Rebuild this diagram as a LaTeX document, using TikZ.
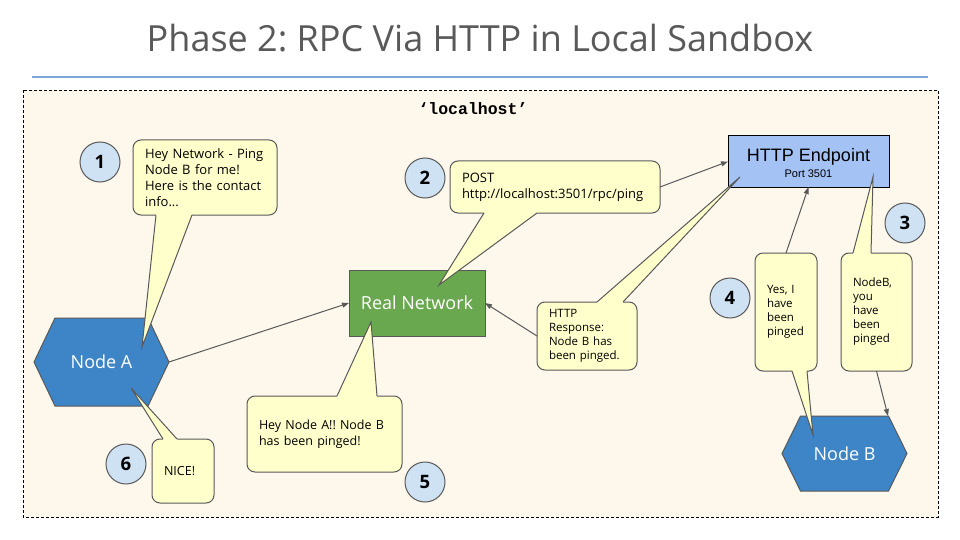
\documentclass[tikz,border=0pt]{standalone}
\usepackage{fontspec}
\setmainfont{Open Sans}
\newfontfamily\arialfont{Liberation Sans}
\newfontfamily\courierfont{Liberation Mono}
\usetikzlibrary{arrows.meta,calc}
\frenchspacing

\definecolor{inkgray}{HTML}{595959}
\definecolor{rulerblue}{HTML}{7BA7DA}
\definecolor{sandfill}{HTML}{FEF7EC}
\definecolor{notefill}{HTML}{FFFFCC}
\definecolor{hexblue}{HTML}{3D85C6}
\definecolor{netgreen}{HTML}{6AA84F}
\definecolor{endpointblue}{HTML}{A4C2F4}
\definecolor{badgefill}{HTML}{CFE2F3}

\newcommand\fsz[2]{\fontsize{#1}{#2}\selectfont}

% flat hexagon: centre x, centre y, half width, half height, chamfer, style
\newcommand\hexshapeat[6]{%
  \filldraw[#6] (#1-#3,#2) -- (#1-#3+#5,#2-#4) -- (#1+#3-#5,#2-#4)
    -- (#1+#3,#2) -- (#1+#3-#5,#2+#4) -- (#1-#3+#5,#2+#4) -- cycle;}

% speech-bubble tail: box, corner anchor of its edge, base offsets, tip, inward shift
\newcommand\calltail[6]{%
  \fill[notefill] ($(#1.#2)+(#3,0)$) -- (#5) -- ($(#1.#2)+(#4,0)$)
    -- ($(#1.#2)+(#4,#6)$) -- ($(#1.#2)+(#3,#6)$) -- cycle;
  \draw[tailline] ($(#1.#2)+(#3,0)$) -- (#5) -- ($(#1.#2)+(#4,0)$);}

\begin{document}
\begin{tikzpicture}[x=1pt,y=-1pt,
  every node/.style={inner sep=0pt, outer sep=0pt},
  hexbody/.style={fill=hexblue, draw=inkgray, line width=1pt},
  hexlabel/.style={text=white, font=\fsz{18}{20}},
  netbox/.style={fill=netgreen, draw=inkgray, line width=1pt, text=white,
    font=\fsz{18}{20}, minimum width=136pt, minimum height=66pt},
  endpointbox/.style={fill=endpointblue, draw=black, line width=1pt,
    minimum width=161pt, minimum height=51pt},
  notebox/.style={fill=notefill, draw=inkgray, line width=1pt,
    rounded corners=8pt, inner xsep=12pt, inner ysep=0pt, align=left},
  tailline/.style={draw=inkgray, line width=1pt, line join=miter},
  badge/.style={circle, fill=badgefill, draw=inkgray, line width=1pt,
    minimum size=40pt, font=\bfseries\fsz{18.5}{20}},
  conn/.style={draw=inkgray, line width=1pt,
    -{Stealth[length=7pt,width=5pt,inset=0pt]}},
]
\useasboundingbox (0,0) rectangle (960,540);

% heading and rule
\node[anchor=base, font=\fsz{36}{40}, text=inkgray] (title) at (480,52)
  {Phase 2: RPC Via HTTP in Local Sandbox};
\draw[rulerblue, line width=1.2pt] (32,77) -- (928,77);

% sandbox area
\filldraw[fill=sandfill, draw=black, line width=0.9pt,
  dash pattern=on 3pt off 2pt] (23,90) rectangle (938,517);
\node[anchor=base, font=\courierfont\bfseries\fsz{16.5}{18}] (host) at (473,115)
  {‘localhost’};

% main actors
\hexshapeat{101.5}{362}{67.5}{44}{21}{hexbody}
\node[hexlabel, minimum width=135pt, minimum height=88pt] (nodeA) at (101.5,362) {Node A};
\hexshapeat{844.5}{453.5}{62.5}{37.5}{18.5}{hexbody}
\node[hexlabel, minimum width=125pt, minimum height=75pt] (nodeB) at (844.5,453.5) {Node B};
\node[netbox] (realnet) at (417,303) {Real Network};
\node[endpointbox] (endpoint) at (808.5,161.5) {};
\node[anchor=base, font=\arialfont\fsz{18}{20}] (endpointT) at (808.5,162) {HTTP Endpoint};
\node[anchor=base, font=\arialfont\fsz{11}{13}] (endpointP) at (808.5,178) {Port 3501};

% tips of the speech-bubble tails
\coordinate (tipA) at (142,347);
\coordinate (tipPost) at (439,285);
\coordinate (tipResp) at (740,177);
\coordinate (tipPinged) at (873,177);
\coordinate (tipYes) at (813,435);
\coordinate (tipHey) at (371,322);
\coordinate (tipNice) at (131,388);

% speech bubbles
\node[notebox, minimum width=144pt, minimum height=75pt, text width=120pt,
  font=\fsz{13}{16}] (noteOne) at (205,177.5)
  {Hey Network - Ping\\Node B for me!\\Here is the contact\\info...};
\calltail{noteOne}{south west}{23}{59}{tipA}{-2}

\node[notebox, minimum width=210pt, minimum height=52pt, text width=186pt,
  font=\fsz{13}{16}] (notePost) at (555,187)
  {POST\\http://localhost:3501/rpc/ping};
\calltail{notePost}{south west}{34}{87}{tipPost}{-2}

\node[notebox, minimum width=100pt, minimum height=68pt, text width=76pt,
  font=\fsz{11.5}{14}] (noteResp) at (587,336)
  {HTTP\\Response:\\Node B has\\been pinged.};
\calltail{noteResp}{north west}{60}{86}{tipResp}{2}

\node[notebox, minimum width=71pt, minimum height=118pt, text width=47pt,
  font=\fsz{11.5}{14}] (notePinged) at (876.5,312)
  {NodeB,\\you\\have\\been\\pinged};
\calltail{notePinged}{north west}{12}{30}{tipPinged}{2}

\node[notebox, minimum width=62pt, minimum height=118pt, text width=38pt,
  font=\fsz{11.5}{14}] (noteYes) at (786,312)
  {Yes, I\\have\\been\\pinged};
\calltail{noteYes}{south west}{37}{52}{tipYes}{-2}

\node[notebox, minimum width=155pt, minimum height=76pt, text width=131pt,
  font=\fsz{12.5}{16}] (noteHey) at (324.5,434)
  {Hey Node A!! Node B\\has been pinged!};
\calltail{noteHey}{north west}{90}{130}{tipHey}{2}

\node[notebox, minimum width=62pt, minimum height=64pt, text width=38pt,
  font=\fsz{12.5}{16}] (noteNice) at (183,471) {NICE!};
\calltail{noteNice}{north west}{11}{25}{tipNice}{2}

% message flow
\draw[conn] (nodeA.east) -- (realnet.west);
\draw[conn] (notePost.east) -- (endpoint.west);
\draw[conn] (noteResp.west) -- (realnet.east);
\draw[conn] (notePinged.south) -- ($(nodeB.north east)+(-19,0)$);
\draw[conn] (noteYes.north) -- (endpoint.south);

% step numbers
\node[badge] (stepOne) at (100,162) {1};
\node[badge] (stepTwo) at (425,178) {2};
\node[badge] (stepThree) at (905,223) {3};
\node[badge] (stepFour) at (730,298) {4};
\node[badge] (stepFive) at (425,482) {5};
\node[badge] (stepSix) at (126,464) {6};
\end{tikzpicture}
\end{document}
